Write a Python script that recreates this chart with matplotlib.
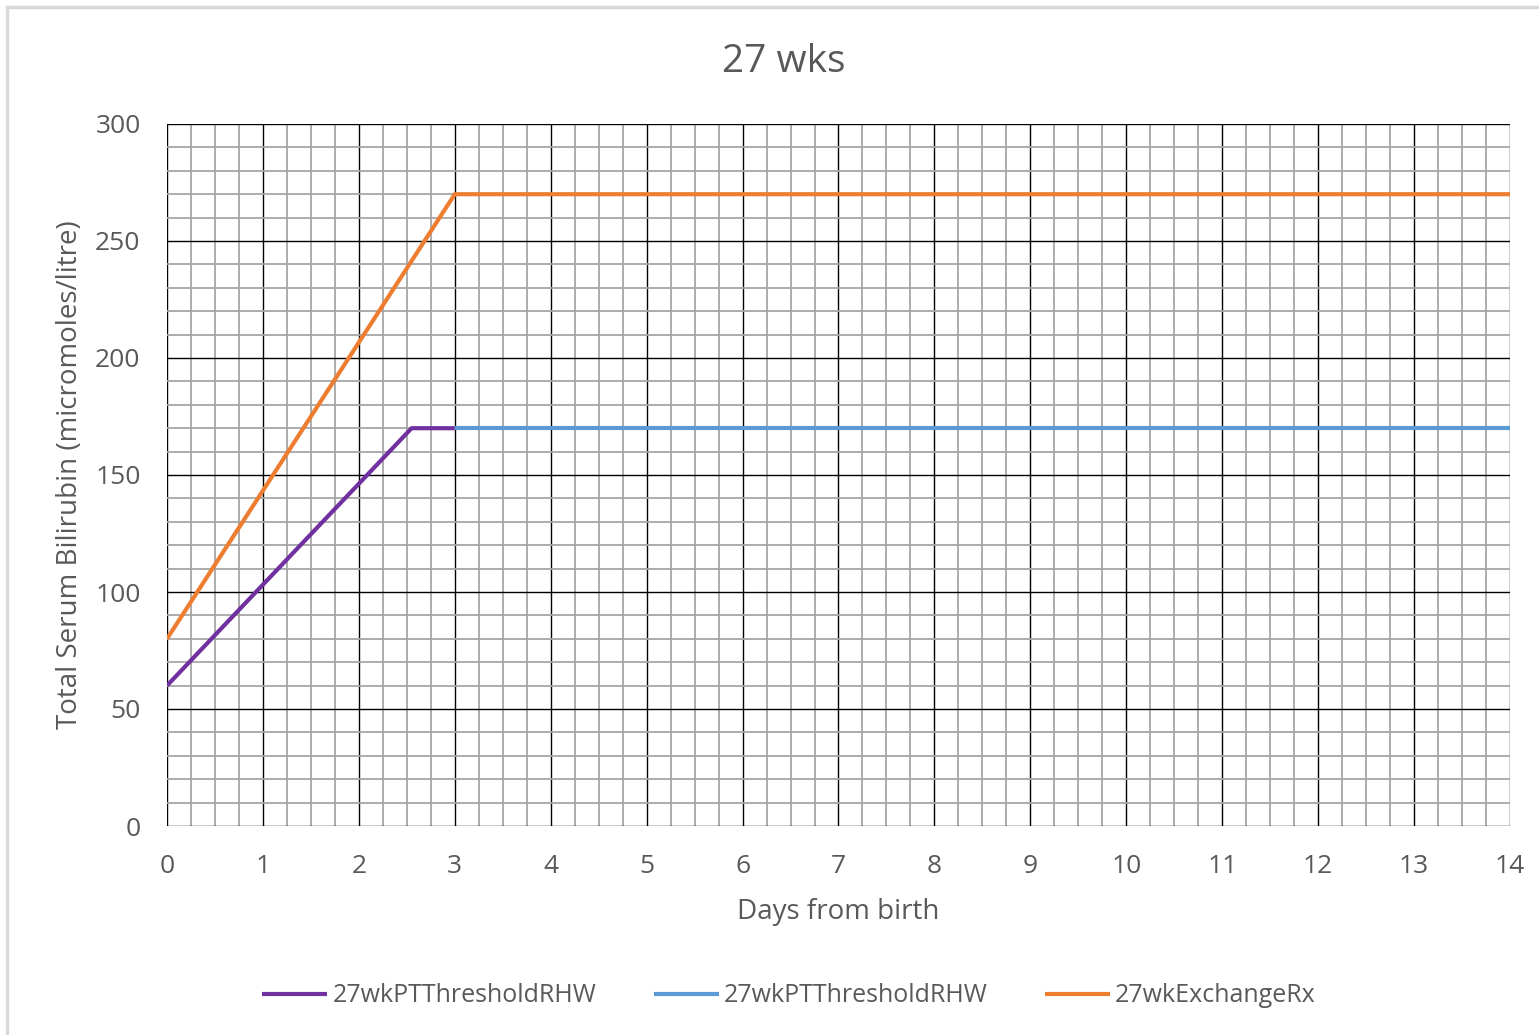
import matplotlib
matplotlib.use("Agg")
import matplotlib.pyplot as plt
from matplotlib.patches import Rectangle
from matplotlib.ticker import MultipleLocator

plt.rcParams['font.family'] = ['Open Sans', 'DejaVu Sans']

# Data
purple_x = [0, 2.55, 3]
purple_y = [60, 170, 170]
blue_x = [3, 14]
blue_y = [170, 170]
orange_x = [0, 3, 14]
orange_y = [80, 270, 270]
labels = ["27wkPTThresholdRHW", "27wkPTThresholdRHW", "27wkExchangeRx"]
x_ticks = list(range(0, 15))
y_ticks = [0, 50, 100, 150, 200, 250, 300]

W, H = 1539, 1035
fig = plt.figure(figsize=(W / 100, H / 100), dpi=100)
fig.patch.set_facecolor('white')
fig.patches.append(Rectangle((7 / W, -0.01), 1.2, 1 - 7 / H + 0.01, transform=fig.transFigure,
                             fill=False, edgecolor='#d9d9d9', linewidth=2.5))

ax = fig.add_axes([167 / W, 1 - 826 / H, (1510 - 167) / W, (826 - 124) / H])
ax.set_xlim(0, 14)
ax.set_ylim(0, 300)
ax.xaxis.set_major_locator(MultipleLocator(1))
ax.xaxis.set_minor_locator(MultipleLocator(0.25))
ax.yaxis.set_major_locator(MultipleLocator(50))
ax.yaxis.set_minor_locator(MultipleLocator(10))
ax.grid(which='minor', color='#a6a6a6', linewidth=1.3)
ax.grid(which='major', color='#000000', linewidth=1.0)
ax.set_axisbelow(True)
for s in ax.spines.values():
    s.set_visible(False)
ax.tick_params(which='both', length=0)
ax.tick_params(axis='x', pad=20, labelsize=19, labelcolor='#595959')
ax.tick_params(axis='y', pad=19, labelsize=19, labelcolor='#595959')
ax.set_xticks(x_ticks)
ax.set_yticks(y_ticks)

ax.plot(purple_x, purple_y, color='#7030a0', linewidth=3, label=labels[0], solid_capstyle='butt')
ax.plot(blue_x, blue_y, color='#5b9bd5', linewidth=3, label=labels[1], solid_capstyle='butt')
ax.plot(orange_x, orange_y, color='#ed7d31', linewidth=3, label=labels[2], solid_capstyle='butt')

ax.set_xlabel("Days from birth", fontsize=20, color='#595959', labelpad=14)
ax.set_ylabel("Total Serum Bilirubin (micromoles/litre)", fontsize=20, color='#595959', labelpad=8)
fig.text(784 / W, 1 - 62 / H, "27 wks", fontsize=28, color='#595959', ha='center', va='center')

leg = fig.legend(loc='center', bbox_to_anchor=(789 / W, 1 - 996 / H), ncol=3, frameon=False,
                 fontsize=18, handlelength=2.6, handletextpad=0.2, columnspacing=2.3,
                 labelcolor='#595959')

fig.savefig("out.png", dpi=100, facecolor='white')
